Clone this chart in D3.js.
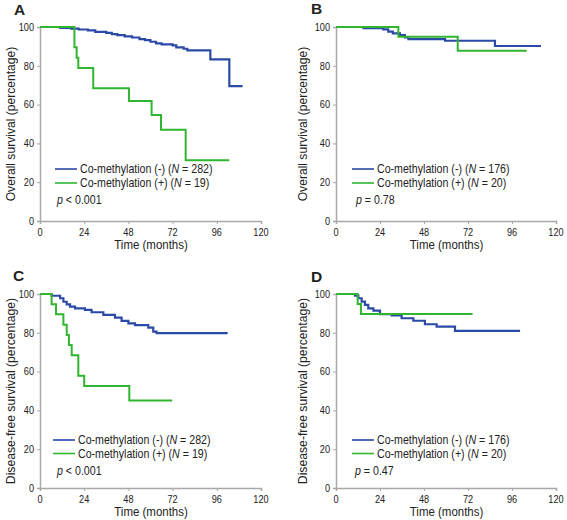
<!DOCTYPE html>
<html>
<head>
<meta charset="utf-8">
<script src="https://cdn.jsdelivr.net/npm/d3@7"></script>
<style>
  body { margin: 0; background: #fff; }
  text { font-family: "Liberation Sans", Arial, sans-serif; fill: #222; }
</style>
</head>
<body>
<svg id="chart" width="567" height="520"></svg>
<script>
// ---------- data ----------
const xTicks = [0, 24, 48, 72, 96, 120];
const yTicks = [0, 20, 40, 60, 80, 100];
const panelLabels = ["A", "B", "C", "D"];
const yTitles = ["Overall survival (percentage)", "Overall survival (percentage)",
                 "Disease-free survival (percentage)", "Disease-free survival (percentage)"];
const legendNeg = ["282", "176", "282", "176"];
const legendPos = ["19", "20", "19", "20"];
const pValues = ["< 0.001", "= 0.78", "< 0.001", "= 0.47"];

// Panel A – overall survival, co-methylation (-) / (+)
const aNegTime = [0, 11, 17, 21, 26, 30, 36, 39, 42, 46, 50, 54, 57, 60, 63, 66, 72, 74, 78, 80, 92.5, 102.8, 110];
const aNegSurv = [100, 99.6, 99.2, 98.7, 98.3, 97.5, 97.0, 96.3, 95.8, 95.2, 94.6, 93.8, 93.2, 92.4, 91.6, 91.0, 90.5, 89.5, 88.8, 88.0, 83.3, 69.5, 69.5];
const aPosTime = [0, 18.7, 19.9, 20.8, 28.9, 48.3, 60.6, 65.7, 79.1, 102.8];
const aPosSurv = [100, 89.5, 84.2, 78.9, 68.4, 61.9, 54.7, 47.0, 31.3, 31.3];

// Panel B
const bNegTime = [0, 15, 25.8, 28.5, 31, 34.9, 37.6, 39.5, 59.5, 86.7, 111.8];
const bNegSurv = [100, 99.4, 98.8, 97.6, 96.7, 95.8, 94.6, 93.8, 92.9, 90.2, 90.2];
const bPosTime = [0, 34, 66.4, 104];
const bPosSurv = [100, 95.0, 87.8, 87.8];

// Panel C – disease-free survival
const cNegTime = [0, 6.3, 10.9, 12.7, 14.5, 16.3, 19, 24.4, 28, 34.4, 40.7, 44.3, 48, 51.6, 58.8, 61.5, 63.3, 101.9];
const cNegSurv = [100, 99.1, 97.8, 96.0, 94.7, 93.5, 92.6, 91.8, 90.6, 89.2, 87.8, 86.1, 84.9, 84.0, 82.7, 80.6, 79.8, 79.8];
const cPosTime = [0, 6.3, 8.7, 12.7, 14.5, 15.7, 17.2, 20.8, 24, 48.5, 71.8];
const cPosSurv = [100, 94.7, 89.5, 84.2, 78.9, 73.7, 68.4, 57.9, 52.6, 45.1, 45.1];

// Panel D
const dNegTime = [0, 10.4, 12.2, 14, 15.8, 17.6, 20.4, 24, 30.4, 35.8, 42.2, 48.5, 54.9, 64.9, 100.4];
const dNegSurv = [100, 99.2, 97.8, 96.1, 94.4, 92.6, 91.4, 89.6, 89.0, 87.5, 86.2, 84.4, 83.2, 81.0, 81.0];
const dPosTime = [0, 11.8, 13.6, 74.5];
const dPosSurv = [100, 94.9, 89.7, 89.7];

const negSeries = [[aNegTime, aNegSurv], [bNegTime, bNegSurv], [cNegTime, cNegSurv], [dNegTime, dNegSurv]];
const posSeries = [[aPosTime, aPosSurv], [bPosTime, bPosSurv], [cPosTime, cPosSurv], [dPosTime, dPosSurv]];

// ---------- layout ----------
const BLUE = "#2b49a6", GREEN = "#2fb52f", AXIS = "#a8a8a8";
const SX = 0.85; // horizontal text compression seen in the reference
const panels = [
  { left: 40,  top: 27,  w: 221, h: 194, lab: [14, 15],  yt: 10,  leg: [55, 169, 183, 57, 204] },
  { left: 336, top: 27,  w: 220, h: 194, lab: [311, 14], yt: 302, leg: [352, 169, 183, 356, 204] },
  { left: 40,  top: 294, w: 221, h: 194, lab: [13, 281], yt: 10,  leg: [53, 440, 453.5, 57, 475] },
  { left: 336, top: 294, w: 220, h: 194, lab: [311, 282], yt: 302, leg: [352, 440, 453.5, 355, 475] }
];

const svg = d3.select("#chart");

function sText(g, x, y, size, anchor) {
  // text horizontally compressed around its anchor point
  const t = g.append("g").attr("transform", `translate(${x},${y}) scale(${SX},1)`)
    .append("text").attr("font-size", size).attr("text-anchor", anchor || "start");
  return t;
}

panels.forEach((p, i) => {
  const x = d3.scaleLinear().domain([0, 120]).range([p.left, p.left + p.w]);
  const y = d3.scaleLinear().domain([0, 100]).range([p.top + p.h, p.top]);
  const g = svg.append("g");

  // axes
  const xa = g.append("g").attr("transform", `translate(0,${p.top + p.h})`)
    .call(d3.axisBottom(x).tickValues(xTicks).tickSize(3).tickPadding(2));
  const ya = g.append("g").attr("transform", `translate(${p.left},0)`)
    .call(d3.axisLeft(y).tickValues(yTicks).tickSize(3).tickPadding(3));
  [xa, ya].forEach(a => {
    a.select(".domain").attr("stroke", AXIS).attr("stroke-width", 1.5);
    a.selectAll(".tick line").attr("stroke", AXIS).attr("stroke-width", 1);
    a.selectAll(".tick text").remove();
  });
  xTicks.forEach(v => sText(g, x(v), p.top + p.h + 15, 10.8, "middle").text(v));
  yTicks.forEach(v => sText(g, p.left - 6, y(v) + 3.8, 10.8, "end").text(v));

  // axis titles
  sText(g, p.left + p.w * 0.5 + 0.5, p.top + p.h + 28, 13.5, "middle").text("Time (months)");
  g.append("text").attr("font-size", i < 2 ? 12.1 : 12.2).attr("text-anchor", "middle")
    .attr("transform", `translate(${p.yt + 4.5},${p.top + p.h / 2}) rotate(-90)`)
    .text(yTitles[i]);

  // panel label
  g.append("text").attr("x", p.lab[0]).attr("y", p.lab[1]).attr("font-size", 15.5)
    .attr("font-weight", "bold").attr("fill", "#111").text(panelLabels[i]);

  // survival curves
  const line = d3.line().curve(d3.curveStepAfter).x(d => x(d[0])).y(d => y(d[1]));
  const neg = negSeries[i][0].map((t, k) => [t, negSeries[i][1][k]]);
  const pos = posSeries[i][0].map((t, k) => [t, posSeries[i][1][k]]);
  const order = (i === 1 || i === 3) ? [[neg, BLUE], [pos, GREEN]] : [[neg, BLUE], [pos, GREEN]];
  order.forEach(([d, c]) => {
    g.append("path").datum(d).attr("d", line).attr("fill", "none")
      .attr("stroke", c).attr("stroke-width", c === BLUE ? 2.2 : 2);
  });

  // legend
  const L = p.leg;
  [[L[1], BLUE, "(-)", legendNeg[i]], [L[2], GREEN, "(+)", legendPos[i]]].forEach(([ly, c, sign, n]) => {
    g.append("line").attr("x1", L[0]).attr("x2", L[0] + 22).attr("y1", ly).attr("y2", ly)
      .attr("stroke", c).attr("stroke-width", 1.6);
    const t = sText(g, L[0] + 25, ly + 4.3, 12.5, "start");
    t.append("tspan").text(`Co-methylation ${sign} (`);
    t.append("tspan").attr("font-style", "italic").text("N");
    t.append("tspan").text(` = ${n})`);
  });
  const pt = sText(g, L[3], L[4], 12.5, "start");
  pt.append("tspan").attr("font-style", "italic").text("p");
  pt.append("tspan").text(` ${pValues[i]}`);
});
</script>
</body>
</html>
